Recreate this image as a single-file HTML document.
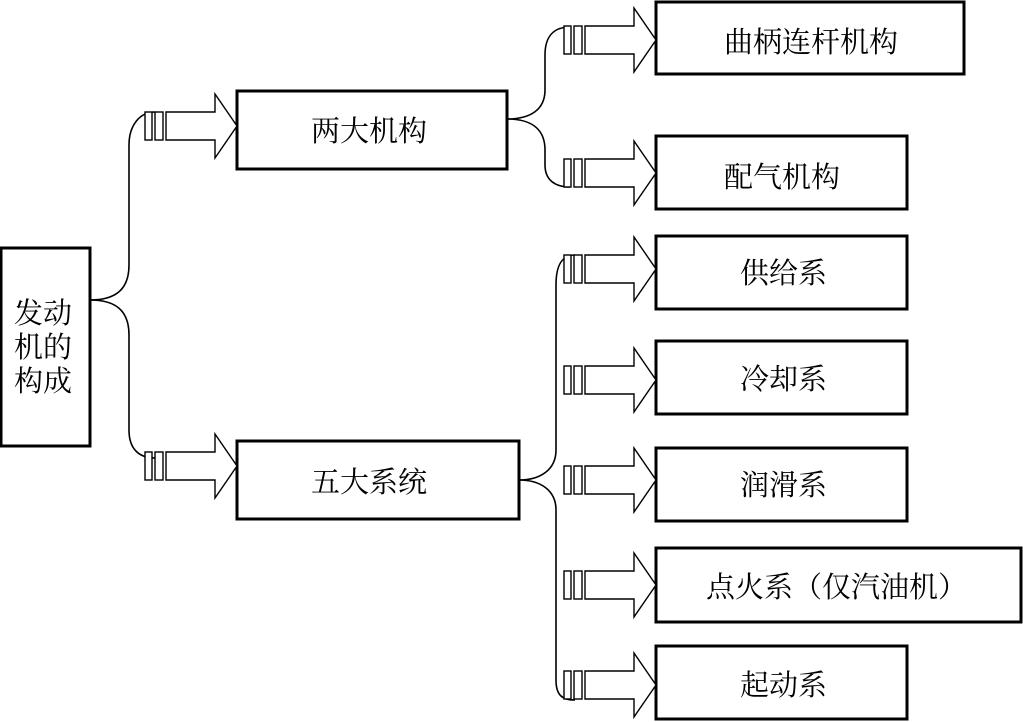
<!DOCTYPE html>
<html><head><meta charset="utf-8"><style>
body{margin:0;background:#fff}
svg{display:block}
text{font-family:"Noto Serif CJK SC","Liberation Serif","Noto Sans CJK SC",serif;font-size:29px;fill:#000}
</style></head><body>
<svg width="1023" height="722" viewBox="0 0 1023 722" xmlns="http://www.w3.org/2000/svg">
<defs>
<g id="ar" fill="#fff" stroke="#000" stroke-width="1.4">
<rect x="-92" y="-14" width="7" height="28"/>
<rect x="-82" y="-14" width="8" height="28"/>
<path d="M-71,-14 H-22 V-32 L0,0 L-22,32 V14 H-71 Z"/>
</g>
</defs>
<g fill="#fff" stroke="#000" stroke-width="3">
<rect x="1" y="248" width="89" height="198"/>
<rect x="237" y="91" width="270" height="78"/>
<rect x="237" y="441" width="282" height="78"/>
<rect x="656" y="2" width="308" height="72"/>
<rect x="656" y="136" width="251" height="73"/>
<rect x="656" y="236" width="251" height="73"/>
<rect x="656" y="341" width="251" height="73"/>
<rect x="656" y="448" width="251" height="73"/>
<rect x="656" y="548" width="365" height="74"/>
<rect x="656" y="646" width="251" height="73"/>
</g>
<g fill="none" stroke="#000" stroke-width="1.6">
<path d="M90,300 C115,300 129,290 129,265 V145 C129,125 140,112 155,112"/>
<path d="M90,300 C115,300 129,310 129,335 V430 C129,450 140,458 155,458"/>
<path d="M507,119 C530,119 545,110 545,90 V55 C545,35 555,27 570,27"/>
<path d="M507,119 C530,119 545,128 545,150 V165 C545,180 555,187 570,187"/>
<path d="M519,480 C540,480 556,470 556,450 V285 C556,265 562,255 575,255"/>
<path d="M519,480 C540,480 556,490 556,510 V680 C556,695 562,700 575,700"/>
</g>
<use href="#ar" x="237" y="126"/>
<use href="#ar" x="237" y="466"/>
<use href="#ar" x="656" y="40"/>
<use href="#ar" x="656" y="173"/>
<use href="#ar" x="656" y="269"/>
<use href="#ar" x="656" y="380"/>
<use href="#ar" x="656" y="480"/>
<use href="#ar" x="656" y="585"/>
<use href="#ar" x="656" y="685"/>
<text x="14" y="323">发动</text>
<text x="14" y="357">机的</text>
<text x="14" y="391">构成</text>
<text x="311" y="141">两大机构</text>
<text x="311" y="492">五大系统</text>
<text x="724" y="52">曲柄连杆机构</text>
<text x="724" y="187">配气机构</text>
<text x="740" y="283">供给系</text>
<text x="740" y="389">冷却系</text>
<text x="740" y="495">润滑系</text>
<text x="706" y="597">点火系（仅汽油机）</text>
<text x="740" y="695">起动系</text>
</svg>
</body></html>
